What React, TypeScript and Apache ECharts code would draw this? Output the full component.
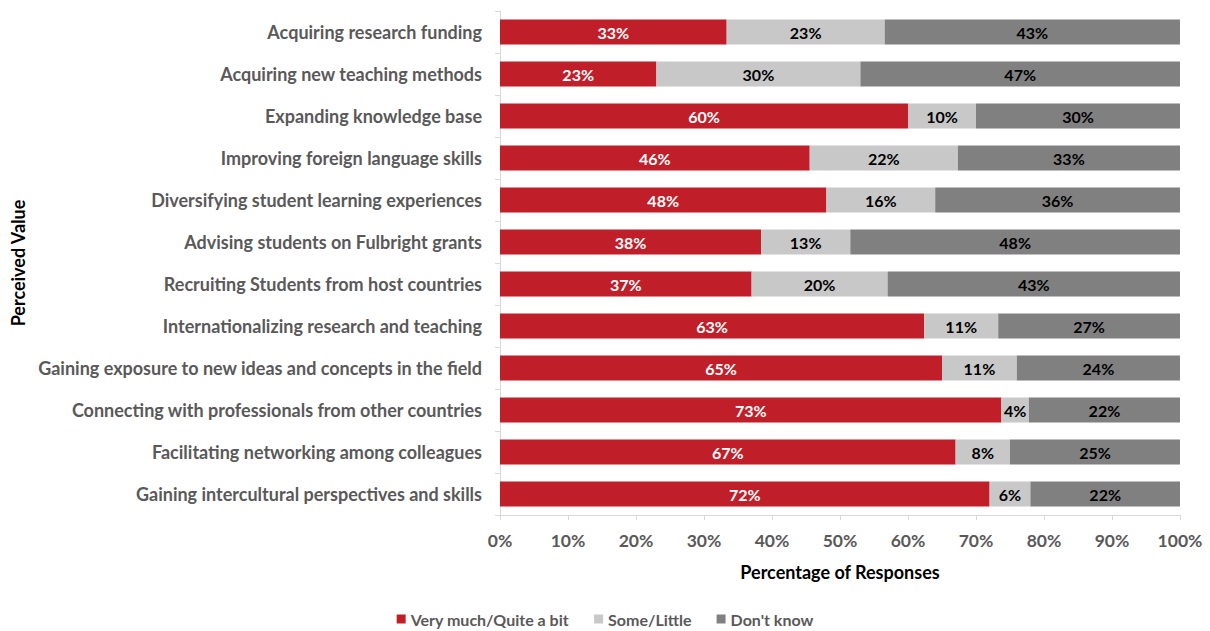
import React, { useEffect, useRef } from "react";
import * as echarts from "echarts";

const categories = [
  "Acquiring research funding",
  "Acquiring new teaching methods",
  "Expanding knowledge base",
  "Improving foreign language skills",
  "Diversifying student learning experiences",
  "Advising students on Fulbright grants",
  "Recruiting Students from host countries",
  "Internationalizing research and teaching",
  "Gaining exposure to new ideas and concepts in the field",
  "Connecting with professionals from other countries",
  "Facilitating networking among colleagues",
  "Gaining intercultural perspectives and skills",
];
const veryMuch = [33, 23, 60, 46, 48, 38, 37, 63, 65, 73, 67, 72];
const someLittle = [23, 30, 10, 22, 16, 13, 20, 11, 11, 4, 8, 6];
const dontKnow = [43, 47, 30, 33, 36, 48, 43, 27, 24, 22, 25, 22];
const xTicks = [0, 10, 20, 30, 40, 50, 60, 70, 80, 90, 100];

const FONT = "Lato, 'Open Sans', sans-serif";

export default function App() {
  const ref = useRef<HTMLDivElement>(null);
  useEffect(() => {
    if (!ref.current) return;
    const chart = echarts.init(ref.current, null, { renderer: "svg" });
    const totals = veryMuch.map((v, i) => v + someLittle[i] + dontKnow[i]);
    const norm = (arr: number[]) => arr.map((v, i) => (v / totals[i]) * 100);
    const mk = (name: string, raw: number[], color: string, labelColor: string) => ({
      name,
      type: "bar",
      stack: "total",
      barWidth: "60%",
      data: norm(raw),
      itemStyle: { color },
      label: {
        show: true,
        position: "inside",
        color: labelColor,
        fontFamily: FONT,
        fontWeight: "bold",
        fontSize: 16,
        formatter: (p: any) => raw[p.dataIndex] + "%",
      },
    });
    chart.setOption({
      animation: false,
      textStyle: { fontFamily: FONT },
      grid: {
        left: 500,
        right: 30,
        top: 11,
        bottom: 116,
        containLabel: false,
        outerBoundsMode: "none",
      },
      legend: {
        top: 606,
        left: "center",
        itemWidth: 9,
        itemHeight: 9,
        itemGap: 25,
        icon: "rect",
        textStyle: { color: "#595959", fontSize: 16, fontWeight: "bold", fontFamily: FONT },
        data: ["Very much/Quite a bit", "Some/Little", "Don't know"],
      },
      xAxis: {
        type: "value",
        min: 0,
        max: 100,
        interval: 10,
        name: "Percentage of Responses",
        nameLocation: "middle",
        nameGap: 48,
        nameTextStyle: { color: "#000", fontSize: 18, fontWeight: "bold", fontFamily: FONT },
        axisLine: { show: true, lineStyle: { color: "#D9D9D9" } },
        axisTick: { show: true, length: 5, lineStyle: { color: "#D9D9D9" } },
        splitLine: { show: false },
        axisLabel: {
          color: "#595959",
          fontSize: 17.5,
          fontWeight: "bold",
          fontFamily: FONT,
          margin: 16,
          formatter: (v: number) => (xTicks.includes(v) ? v + "%" : ""),
        },
      },
      yAxis: {
        type: "category",
        inverse: true,
        data: categories,
        name: "Perceived Value",
        nameLocation: "middle",
        nameRotate: 90,
        nameGap: 473,
        nameTextStyle: { color: "#000", fontSize: 18, fontWeight: "bold", fontFamily: FONT },
        axisLine: { show: true, lineStyle: { color: "#D9D9D9" } },
        axisTick: { show: true, length: 5, lineStyle: { color: "#D9D9D9" } },
        axisLabel: {
          color: "#595959",
          fontSize: 18,
          fontWeight: "bold",
          fontFamily: FONT,
          margin: 18,
        },
      },
      series: [
        mk("Very much/Quite a bit", veryMuch, "#C01F2A", "#FFFFFF"),
        mk("Some/Little", someLittle, "#C8C8C8", "#000000"),
        mk("Don't know", dontKnow, "#808080", "#000000"),
      ],
    });
    return () => chart.dispose();
  }, []);
  return (
    <div
      ref={ref}
      style={{ position: "fixed", left: 0, top: 0, width: 1210, height: 631, background: "#fff" }}
    />
  );
}
